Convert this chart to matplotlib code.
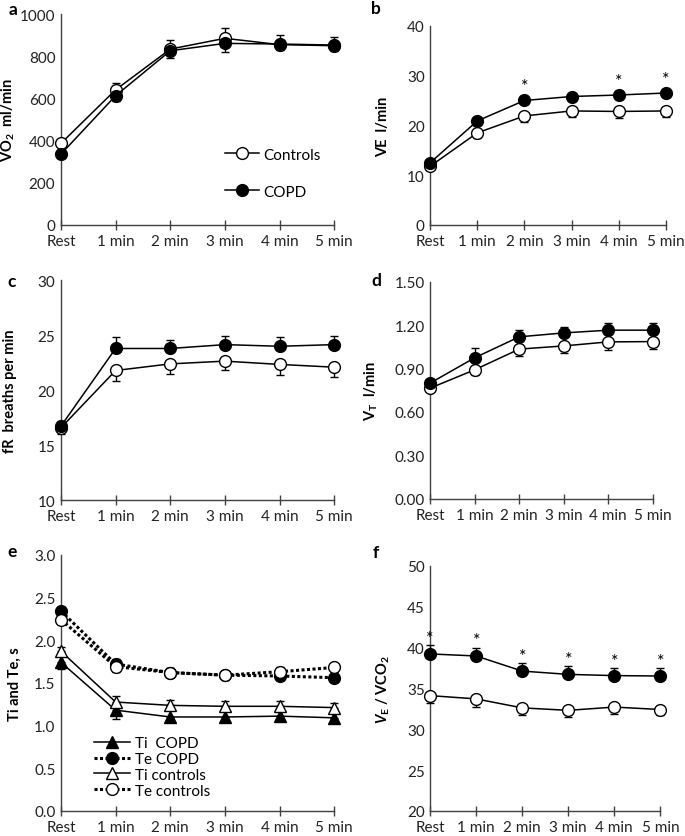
import numpy as np
import matplotlib
matplotlib.use('Agg')
import matplotlib.pyplot as plt
from matplotlib.lines import Line2D

plt.rcParams['font.family'] = ['Lato', 'DejaVu Sans']
plt.rcParams['mathtext.fontset'] = 'custom'
plt.rcParams['mathtext.rm'] = 'Lato'
plt.rcParams['mathtext.it'] = 'Lato:italic'
plt.rcParams['mathtext.bf'] = 'Lato:bold'
plt.rcParams['mathtext.bfit'] = 'Lato:bold:italic'

# ---------------- data ----------------
time_labels = ["Rest", "1 min", "2 min", "3 min", "4 min", "5 min"]

# a: VO2 ml/min
vo2_ctrl = [387, 641, 834, 885, 855, 850]
vo2_ctrl_up = [20, 32, 43, 47, 45, 43]
vo2_copd = [336, 613, 826, 861, 858, 853]
vo2_copd_dn = [20, 25, 36, 43, 30, 30]

# b: VE l/min
ve_ctrl = [11.8, 18.5, 21.9, 22.9, 22.8, 22.9]
ve_ctrl_dn = [0.6, 1.0, 1.2, 1.2, 1.3, 1.3]
ve_copd = [12.5, 20.9, 25.0, 25.8, 26.1, 26.5]
ve_copd_up = [0.5, 0.6, 0.6, 0.6, 0.6, 0.6]
ve_stars = [False, False, True, False, True, True]

# c: fR breaths per min
fr_ctrl = [16.6, 21.8, 22.4, 22.65, 22.35, 22.1]
fr_ctrl_dn = [0.6, 1.0, 0.9, 0.8, 0.95, 0.9]
fr_copd = [16.75, 23.8, 23.8, 24.15, 24.0, 24.15]
fr_copd_up = [0.5, 1.0, 0.8, 0.8, 0.85, 0.8]

# d: VT l/min
vt_ctrl = [0.765, 0.892, 1.035, 1.057, 1.085, 1.087]
vt_ctrl_dn = [0.02, 0.035, 0.045, 0.05, 0.057, 0.05]
vt_copd = [0.80, 0.975, 1.12, 1.147, 1.166, 1.166]
vt_copd_up = [0.02, 0.07, 0.05, 0.04, 0.05, 0.05]

# e: Ti and Te, s
ti_copd = [1.74, 1.18, 1.10, 1.10, 1.11, 1.09]
ti_copd_dn = [0.08, 0.10, 0.04, 0.04, 0.04, 0.04]
te_copd = [2.34, 1.72, 1.62, 1.59, 1.58, 1.56]
te_copd_err = [0.05, 0.06, 0.05, 0.05, 0.05, 0.05]
ti_ctrl = [1.87, 1.275, 1.236, 1.225, 1.225, 1.21]
ti_ctrl_up = [0.05, 0.07, 0.06, 0.06, 0.06, 0.05]
te_ctrl = [2.24, 1.69, 1.62, 1.59, 1.63, 1.68]
te_ctrl_err = [0.05, 0.06, 0.05, 0.05, 0.05, 0.05]

# f: VE / VCO2
eq_ctrl = [34.1, 33.7, 32.6, 32.3, 32.7, 32.4]
eq_ctrl_dn = [0.9, 1.0, 0.85, 0.8, 0.8, 0.65]
eq_copd = [39.2, 38.95, 37.1, 36.7, 36.55, 36.5]
eq_copd_up = [1.1, 1.0, 1.0, 1.0, 0.9, 0.95]
eq_stars = [True, True, True, True, True, True]

x = np.arange(len(time_labels))
zeros = [0] * len(time_labels)

fig = plt.figure(figsize=(6.85, 8.37), dpi=100)

axes_pos = {
    "a": [0.089, 0.730, 0.399, 0.252],
    "b": [0.628, 0.730, 0.344, 0.238],
    "c": [0.089, 0.401, 0.399, 0.263],
    "d": [0.628, 0.403, 0.325, 0.259],
    "e": [0.089, 0.030, 0.399, 0.306],
    "f": [0.628, 0.030, 0.336, 0.293],
}


def style_axis(ax, ylim, yticks, fmt, ylabel, label_x):
    ax.set_xlim(0, 5)
    ax.set_ylim(*ylim)
    ax.set_yticks(yticks)
    ax.set_yticklabels([fmt.format(t) for t in yticks])
    ax.set_xticks(x)
    ax.set_xticklabels(time_labels)
    for s in ["top", "right"]:
        ax.spines[s].set_visible(False)
    for s in ["left", "bottom"]:
        ax.spines[s].set_color("#404040")
        ax.spines[s].set_linewidth(1.0)
    ax.tick_params(axis="y", length=0, labelsize=11, pad=4, colors="#222222")
    ax.tick_params(axis="x", direction="inout", length=7, width=1.0,
                   color="#404040", labelsize=11, pad=3, labelcolor="#222222")
    ax.set_ylabel(ylabel, fontsize=10.5, fontweight="bold")
    ax.yaxis.set_label_coords(label_x, 0.5)


def plot_series(ax, y, err, filled, marker="o", ls="-", lw=1.1, ms=8.5):
    ax.errorbar(x, y, yerr=err, color="black", lw=lw, ls=ls, marker=marker,
                ms=ms, mfc="black" if filled else "white", mec="black", mew=1.0,
                ecolor="black", elinewidth=1.0, capsize=3, capthick=1.0,
                clip_on=False, zorder=3)


def add_stars(ax, y, up, flags, off):
    for xi, yi, ui, f in zip(x, y, up, flags):
        if f:
            ax.text(xi, yi + ui + off, "*", ha="center", va="center", fontsize=13)


# a
ax = fig.add_axes(axes_pos["a"])
plot_series(ax, vo2_ctrl, [zeros, vo2_ctrl_up], False)
plot_series(ax, vo2_copd, [vo2_copd_dn, zeros], True)
style_axis(ax, (0, 1000), [0, 200, 400, 600, 800, 1000], "{:.0f}",
           r"VO$_\mathbf{2}$  ml/min", -0.16)
handles = [Line2D([], [], color="black", lw=1.1, marker="o", ms=8.5, mfc="white", mec="black"),
           Line2D([], [], color="black", lw=1.1, marker="o", ms=8.5, mfc="black", mec="black")]
ax.legend(handles, ["Controls", "COPD"], loc="lower right", bbox_to_anchor=(1.0, 0.06),
          frameon=False, fontsize=11, labelspacing=1.5, handlelength=2.2, handletextpad=0.3)

# b
ax = fig.add_axes(axes_pos["b"])
plot_series(ax, ve_ctrl, [ve_ctrl_dn, zeros], False)
plot_series(ax, ve_copd, [zeros, ve_copd_up], True)
add_stars(ax, ve_copd, ve_copd_up, ve_stars, 2.3)
style_axis(ax, (0, 40), [0, 10, 20, 30, 40], "{:.0f}", "VE  l/min", -0.17)

# c
ax = fig.add_axes(axes_pos["c"])
plot_series(ax, fr_ctrl, [fr_ctrl_dn, zeros], False)
plot_series(ax, fr_copd, [zeros, fr_copd_up], True)
style_axis(ax, (10, 30), [10, 15, 20, 25, 30], "{:.0f}", "fR  breaths per min", -0.16)

# d
ax = fig.add_axes(axes_pos["d"])
plot_series(ax, vt_ctrl, [vt_ctrl_dn, zeros], False)
plot_series(ax, vt_copd, [zeros, vt_copd_up], True)
style_axis(ax, (0, 1.5), [0, 0.3, 0.6, 0.9, 1.2, 1.5], "{:.2f}",
           r"$\mathbf{V}_\mathbf{T}$  l/min", -0.225)

# e
ax = fig.add_axes(axes_pos["e"])
plot_series(ax, ti_copd, [ti_copd_dn, zeros], True, marker="^", ms=8)
plot_series(ax, te_copd, te_copd_err, True, ls=(0, (1, 0.8)), lw=2.2)
plot_series(ax, ti_ctrl, [zeros, ti_ctrl_up], False, marker="^", ms=8)
plot_series(ax, te_ctrl, te_ctrl_err, False, ls=(0, (1, 0.8)), lw=2.2)
style_axis(ax, (0, 3.0), [0, 0.5, 1.0, 1.5, 2.0, 2.5, 3.0], "{:.1f}",
           "Ti and Te, s", -0.145)
handles = [Line2D([], [], color="black", lw=1.1, marker="^", ms=8, mfc="black", mec="black"),
           Line2D([], [], color="black", lw=2.2, ls=(0, (1, 0.8)), marker="o", ms=8.5, mfc="black", mec="black"),
           Line2D([], [], color="black", lw=1.1, marker="^", ms=8, mfc="white", mec="black"),
           Line2D([], [], color="black", lw=2.2, ls=(0, (1, 0.8)), marker="o", ms=8.5, mfc="white", mec="black")]
ax.legend(handles, ["Ti  COPD", "Te COPD", "Ti controls", "Te controls"], loc="lower left",
          bbox_to_anchor=(0.08, 0.01), frameon=False, fontsize=11, labelspacing=0.12,
          handlelength=2.4, handletextpad=0.3, borderpad=0.2)

# f
ax = fig.add_axes(axes_pos["f"])
plot_series(ax, eq_ctrl, [eq_ctrl_dn, zeros], False)
plot_series(ax, eq_copd, [zeros, eq_copd_up], True)
add_stars(ax, eq_copd, eq_copd_up, eq_stars, 0.9)
style_axis(ax, (20, 50), [20, 25, 30, 35, 40, 45, 50], "{:.0f}",
           r"$\mathbfit{V}_\mathbf{E}$ / VCO$_\mathbf{2}$", -0.165)

# panel letters
for letter, (px, py) in {"a": (13, 10), "b": (376, 9), "c": (12, 282),
                         "d": (376, 281), "e": (12, 552), "f": (376, 553)}.items():
    fig.text(px / 685, 1 - py / 837, letter, fontsize=12.5, fontweight="bold",
             ha="center", va="center")

fig.savefig("out.png", dpi=100)
